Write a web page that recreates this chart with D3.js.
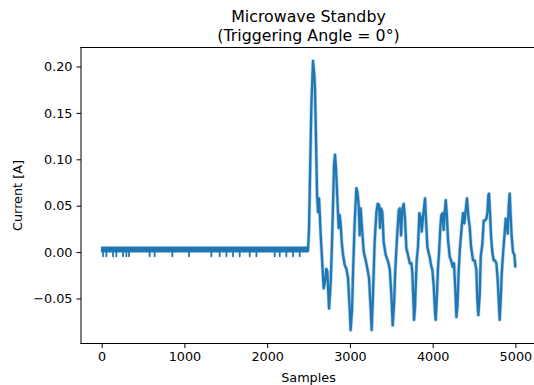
<!DOCTYPE html>
<html>
<head>
<meta charset="utf-8">
<script src="https://cdn.jsdelivr.net/npm/d3@7"></script>
<style>
  html, body { margin: 0; padding: 0; background: #fff; }
  svg { display: block; }
  text { font-family: "DejaVu Sans", sans-serif; fill: #000; }
</style>
</head>
<body>
<div id="chart"></div>
<script>
// ---------- data ----------
const titleLines = ["Microwave Standby", "(Triggering Angle = 0°)"];
const xLabel = "Samples";
const yLabel = "Current [A]";
const xTicks = [0, 1000, 2000, 3000, 4000, 5000];
const yTicks = [-0.05, 0.00, 0.05, 0.10, 0.15, 0.20];

// standby (flat, noisy) part: sample range and noise band
const flatRange = [0, 2494];
const flatBand = [0.0005, 0.0052];
// short downward spikes in the standby part
const dipSamples = [16, 56, 137, 177, 258, 298, 330, 580, 640, 854, 1055, 1325, 1426,
  1507, 1587, 1668, 1789, 1870, 2091, 2152, 2232, 2313, 2393];
const dipValue = -0.0045;

// transient part after switching
const traceSamples = [
  2494, 2506, 2534, 2554, 2562, 2570, 2578, 2586, 2603, 2615, 2627, 2635, 2647, 2663, 2683,
  2699, 2715, 2727, 2748, 2768, 2784, 2796, 2808, 2820, 2832, 2848, 2864, 2876, 2889, 2901,
  2917, 2937, 2957, 2977, 2997, 3009, 3026, 3038, 3058, 3078, 3090, 3106, 3118, 3130, 3146,
  3167, 3187, 3211, 3231, 3251, 3263, 3279, 3299, 3320, 3336, 3352, 3364, 3376, 3392, 3408,
  3432, 3461, 3481, 3501, 3517, 3533, 3549, 3569, 3590, 3602, 3618, 3634, 3650, 3666, 3682,
  3702, 3723, 3743, 3755, 3767, 3775, 3787, 3795, 3807, 3823, 3839, 3855, 3868, 3884, 3900,
  3908, 3920, 3936, 3952, 3964, 3980, 3996, 4013, 4029, 4037, 4049, 4065, 4077, 4093, 4105,
  4121, 4133, 4146, 4158, 4170, 4186, 4206, 4226, 4242, 4258, 4274, 4287, 4299, 4315, 4331,
  4355, 4367, 4383, 4399, 4415, 4432, 4448, 4464, 4488, 4508, 4528, 4540, 4552, 4569, 4581,
  4601, 4617, 4633, 4649, 4661, 4673, 4681, 4693, 4706, 4722, 4738, 4754, 4770, 4786, 4802,
  4810, 4822, 4835, 4851, 4867, 4883, 4895, 4907, 4919, 4931, 4943, 4955, 4971, 4988, 4999
];
const traceCurrent = [
  0.002, 0.026, 0.158, 0.206, 0.198, 0.191, 0.176, 0.140, 0.061, 0.043, 0.058, 0.043, 0.018, -0.007, -0.039,
  -0.032, -0.018, -0.021, -0.061, -0.032, 0.011, 0.051, 0.094, 0.105, 0.090, 0.058, 0.026, 0.040, 0.029, 0.011,
  -0.003, -0.014, -0.018, -0.028, -0.061, -0.084, -0.061, -0.021, 0.033, 0.069, 0.065, 0.051, 0.018, 0.047, 0.026,
  0.000, -0.007, -0.018, -0.028, -0.061, -0.084, -0.046, 0.011, 0.043, 0.052, 0.051, 0.026, 0.047, 0.043, 0.011,
  -0.003, -0.010, -0.018, -0.046, -0.079, -0.057, -0.018, 0.015, 0.045, 0.047, 0.018, 0.047, 0.052, 0.036, 0.004,
  -0.003, -0.012, -0.012, -0.023, -0.052, -0.073, -0.059, -0.037, -0.009, 0.006, 0.042, 0.038, 0.022, 0.038, 0.052,
  0.058, 0.034, 0.006, -0.001, -0.005, -0.014, -0.019, -0.037, -0.066, -0.073, -0.052, -0.016, -0.001, 0.027, 0.040,
  0.042, 0.024, 0.042, 0.056, 0.042, 0.013, -0.005, -0.010, -0.016, -0.012, -0.041, -0.070, -0.059, -0.019, 0.006,
  0.031, 0.042, 0.031, 0.045, 0.058, 0.038, 0.027, 0.006, -0.009, -0.009, -0.019, -0.052, -0.068, -0.045, -0.005,
  0.009, 0.034, 0.034, 0.036, 0.042, 0.061, 0.063, 0.042, 0.017, -0.001, -0.009, -0.009, -0.012, -0.030, -0.059,
  -0.073, -0.052, -0.023, -0.001, 0.017, 0.036, 0.034, 0.020, 0.049, 0.063, 0.038, 0.017, 0.000, -0.003, -0.016
];

// ---------- layout ----------
const W = 534, H = 385;
const plot = { left: 81, right: 536, top: 47.5, bottom: 343.5 };
const color = "#1f77b4";
const fontTick = 12.8, fontTitle = 15.8;

// domains with matplotlib-like 5% margins
const allX = [flatRange[0], ...traceSamples];
const allY = [flatBand[0], flatBand[1], dipValue, ...traceCurrent];
const xMin = d3.min(allX), xMax = d3.max(allX);
const yMin = d3.min(allY), yMax = d3.max(allY);
const xPad = (xMax - xMin) * 0.05, yPad = (yMax - yMin) * 0.05;

const x = d3.scaleLinear().domain([xMin - xPad, xMax + xPad]).range([plot.left, plot.right]);
const y = d3.scaleLinear().domain([yMin - yPad, yMax + yPad]).range([plot.bottom, plot.top]);

const svg = d3.select("#chart").append("svg").attr("width", W).attr("height", H);

svg.append("defs").append("clipPath").attr("id", "clip")
  .append("rect").attr("x", plot.left).attr("y", plot.top)
  .attr("width", plot.right - plot.left).attr("height", plot.bottom - plot.top);

const g = svg.append("g").attr("clip-path", "url(#clip)");

// standby band
g.append("rect")
  .attr("x", x(flatRange[0])).attr("width", x(flatRange[1]) - x(flatRange[0]))
  .attr("y", y(flatBand[1])).attr("height", y(flatBand[0]) - y(flatBand[1]))
  .attr("fill", color).attr("stroke", color).attr("stroke-width", 1.6)
  .attr("stroke-linejoin", "round");

// spikes
g.selectAll("line.dip").data(dipSamples).enter().append("line")
  .attr("class", "dip")
  .attr("x1", d => x(d)).attr("x2", d => x(d))
  .attr("y1", y(flatBand[0])).attr("y2", y(dipValue))
  .attr("stroke", color).attr("stroke-width", 1.8).attr("stroke-linecap", "round");

// transient trace
const trace = traceSamples.map((s, i) => [s, traceCurrent[i]]);
const line = d3.line().x(d => x(d[0])).y(d => y(d[1]));
g.append("path").datum(trace).attr("d", line)
  .attr("fill", "none").attr("stroke", color).attr("stroke-opacity", 0.3)
  .attr("stroke-width", 3.8).attr("stroke-linejoin", "round");
g.append("path").datum(trace).attr("d", line)
  .attr("fill", "none").attr("stroke", color)
  .attr("stroke-width", 2.3).attr("stroke-linejoin", "round").attr("stroke-linecap", "round");

// axes
const fmtY = v => d3.format(".2f")(v).replace("-", "\u2212");
const xAxis = d3.axisBottom(x).tickValues(xTicks).tickFormat(d3.format("d"))
  .tickSize(4.5).tickPadding(4);
const yAxis = d3.axisLeft(y).tickValues(yTicks).tickFormat(fmtY)
  .tickSize(4.5).tickPadding(4);

const gx = svg.append("g").attr("transform", `translate(0,${plot.bottom})`).call(xAxis);
const gy = svg.append("g").attr("transform", `translate(${plot.left},0)`).call(yAxis);
[gx, gy].forEach(a => {
  a.select(".domain").remove();
  a.selectAll(".tick line").attr("stroke", "#000").attr("stroke-width", 1);
  a.selectAll(".tick text").attr("font-family", "DejaVu Sans").attr("font-size", fontTick).attr("fill", "#000");
});

// spines
const spine = (x1, y1, x2, y2) => svg.append("line")
  .attr("x1", x1).attr("y1", y1).attr("x2", x2).attr("y2", y2)
  .attr("stroke", "#000").attr("stroke-width", 1).attr("stroke-linecap", "square");
spine(plot.left, plot.top, plot.left, plot.bottom);
spine(plot.left, plot.bottom, plot.right, plot.bottom);
spine(plot.left, plot.top, plot.right, plot.top);
spine(plot.right, plot.top, plot.right, plot.bottom);

// labels
svg.append("text").attr("x", (plot.left + plot.right) / 2).attr("y", 382)
  .attr("text-anchor", "middle").attr("font-size", fontTick).text(xLabel);
svg.append("text").attr("transform", `translate(22,${(plot.top + plot.bottom) / 2}) rotate(-90)`)
  .attr("text-anchor", "middle").attr("font-size", fontTick).text(yLabel);

const cx = (plot.left + plot.right) / 2;
svg.append("text").attr("x", cx).attr("y", 22)
  .attr("text-anchor", "middle").attr("font-size", fontTitle).text(titleLines[0]);
svg.append("text").attr("x", cx).attr("y", 40.5)
  .attr("text-anchor", "middle").attr("font-size", fontTitle).text(titleLines[1]);
</script>
</body>
</html>
